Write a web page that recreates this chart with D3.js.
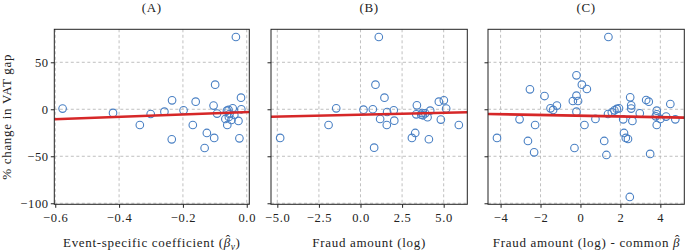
<!DOCTYPE html>
<html>
<head>
<meta charset="utf-8">
<script src="https://cdn.jsdelivr.net/npm/d3@7"></script>
<style>
  body { margin: 0; background: #fff; }
  text { font-family: "Liberation Serif", serif; fill: #222; letter-spacing: 0.7px; }
</style>
</head>
<body>
<div id="chart-area"></div>
<script>

var width = 685,
    height = 252;

// Panel A: event-specific coefficient vs % change in VAT gap
var coefA = [-0.577, -0.419, -0.335, -0.301, -0.258, -0.234, -0.235, -0.198, -0.160, -0.169,
             -0.125, -0.132, -0.099, -0.104, -0.093, -0.102, -0.034, -0.018, -0.017, -0.023,
             -0.026, -0.044, -0.062, -0.057, -0.067, -0.061, -0.056, -0.048, -0.039, -0.054];
var gapA  = [0.7, -3.9, -16.7, -5.0, -2.5, 9.5, -32.0, -1.1, 8.1, -16.7,
             -25.2, -41.2, 26.2, 3.9, -4.6, -30.5, 76.9, 12.4, 0.0, -30.9,
             -12.4, 1.0, -1.5, -0.7, -10.3, -16.7, -8.2, -11.4, -6.1, -5.0];

// Panel B: fraud amount (log)
var fraudB = [-4.83, -1.92, -1.46, 0.18, 0.74, 0.90, 1.10, 0.82, 1.18, 1.44,
              1.60, 1.58, 2.00, 2.03, 3.09, 3.29, 3.39, 3.35, 3.65, 3.75,
              3.89, 4.03, 4.11, 4.19, 4.71, 5.01, 5.15, 4.83, 5.91, 3.70];
var gapB   = [-30.5, -16.7, 1.0, -0.4, 0.0, 26.2, 76.9, -40.8, -10.3, 12.4,
              -2.9, -16.7, -1.1, -12.1, -30.5, -25.2, 4.2, -5.4, -5.7, -6.4,
              -4.3, -8.5, -31.9, -1.5, 8.1, 9.5, 0.7, -11.0, -16.7, -4.0];

// Panel C: fraud amount (log) - common beta
var fraudC = [-4.18, -3.05, -2.53, -2.63, -2.27, -2.32, -1.80, -1.50, -1.37, -1.18,
              -0.38, -0.20, -0.12, -0.20, -0.20, -0.30, 0.07, 0.32, 0.20, 0.75,
              1.19, 1.30, 1.40, 1.38, 1.57, 1.70, 1.82, 1.93, 2.14, 2.18,
              2.27, 2.38, 2.49, 2.54, 2.54, 2.60, 2.47, 2.97, 3.29, 3.42,
              3.49, 3.82, 3.77, 3.82, 3.82, 4.00, 4.29, 4.50, 4.75];
var gapC   = [-30.5, -10.7, 21.2, -33.7, -16.7, -45.8, 14.1, 1.0, -0.7, 3.9,
              8.8, 14.5, 8.8, 36.1, -2.5, -41.2, 26.2, 21.6, -16.7, -10.3,
              -33.7, -48.6, 76.9, -5.0, -3.2, -1.1, 0.4, 1.0, -10.7, -25.2,
              -30.5, -31.6, 12.7, 4.2, 0.7, -12.4, -93.3, -4.3, 9.9, 8.1,
              -47.5, -1.5, -7.5, -5.3, -16.7, -10.3, -7.8, 5.6, -10.7];

// fitted regression lines [intercept, slope]
var fitA = [-3.0, 12.6],
    fitB = [-5.76, 0.398],
    fitC = [-6.84, -0.397];

var titles = ["(A)", "(B)", "(C)"];
var yTicks = [-100, -50, 0, 50];

var svg = d3.select("#chart-area").append("svg")
    .attr("width", width)
    .attr("height", height);

var plotTop = 29.3, plotBottom = 204.3;

var y = d3.scaleLinear()
    .domain([-101.1, 85.1])
    .range([plotBottom, plotTop]);

var panels = [
  { x: coefA, y: gapA, fit: fitA, left: 54.3, right: 249.3, domain: [-0.603, 0.008],
    ticks: [-0.6, -0.4, -0.2, 0.0], fmt: d3.format(".1f"), title: titles[0] },
  { x: fraudB, y: gapB, fit: fitB, left: 271, right: 467.3, domain: [-5.38, 6.42],
    ticks: [-5, -2.5, 0, 2.5, 5], fmt: d3.format(".1f"), title: titles[1] },
  { x: fraudC, y: gapC, fit: fitC, left: 488, right: 684.3, domain: [-4.63, 5.2],
    ticks: [-4, -2, 0, 2, 4], fmt: d3.format("d"), title: titles[2] }
];

panels.forEach(function(p, i) {
  var x = d3.scaleLinear().domain(p.domain).range([p.left, p.right]);
  var g = svg.append("g");

  // grid
  g.selectAll(".vgrid").data(p.ticks).enter().append("line")
    .attr("x1", d => x(d)).attr("x2", d => x(d))
    .attr("y1", plotTop).attr("y2", plotBottom)
    .style("stroke", "#b0b0b0").style("stroke-width", 0.8)
    .style("stroke-dasharray", "3,2.5");
  g.selectAll(".hgrid").data(yTicks).enter().append("line")
    .attr("x1", p.left).attr("x2", p.right)
    .attr("y1", d => y(d)).attr("y2", d => y(d))
    .style("stroke", "#b0b0b0").style("stroke-width", 0.8)
    .style("stroke-dasharray", "3,2.5");

  // points
  var pts = p.x.map(function(v, j) { return { x: v, y: p.y[j] }; });
  g.selectAll("circle").data(pts).enter().append("circle")
    .attr("cx", d => x(d.x))
    .attr("cy", d => y(d.y))
    .attr("r", 3.8)
    .style("fill", "none")
    .style("stroke", "#4a80c4")
    .style("stroke-width", 1.1);

  // regression line across the whole axis
  g.append("line")
    .attr("x1", x(p.domain[0])).attr("y1", y(p.fit[0] + p.fit[1] * p.domain[0]))
    .attr("x2", x(p.domain[1])).attr("y2", y(p.fit[0] + p.fit[1] * p.domain[1]))
    .style("stroke", "#d62728")
    .style("stroke-width", 2.6);

  // axes
  var xAxis = d3.axisBottom(x).tickValues(p.ticks).tickFormat(p.fmt).tickSize(3.5);
  var yAxis = d3.axisLeft(y).tickValues(yTicks).tickSize(3.5);
  if (i > 0) yAxis.tickFormat("");

  var xa = g.append("g").attr("transform", "translate(0," + plotBottom + ")").call(xAxis);
  var ya = g.append("g").attr("transform", "translate(" + p.left + ",0)").call(yAxis);
  [xa, ya].forEach(function(a) {
    a.attr("font-family", null).attr("font-size", null);
    a.select(".domain").remove();
    a.selectAll("line").style("stroke", "#222");
    a.selectAll("text").style("font-size", "12.5px").style("fill", "#222");
  });
  xa.selectAll("text").attr("y", 17.5).attr("dy", null);
  ya.selectAll("text").attr("x", -5.5).attr("dy", "0.34em");

  // frame
  g.append("rect")
    .attr("x", p.left).attr("y", plotTop)
    .attr("width", p.right - p.left).attr("height", plotBottom - plotTop)
    .style("fill", "none").style("stroke", "#222").style("stroke-width", 1);

  // title
  g.append("text")
    .attr("x", (p.left + p.right) / 2).attr("y", 11.5)
    .attr("text-anchor", "middle")
    .style("font-size", "13px")
    .text(p.title);
});

// beta with a hat drawn as a separate glyph
function betaHat(t) {
  t.append("tspan").style("font-style", "italic").style("letter-spacing", "0px").text("\u03B2");
  t.append("tspan").style("letter-spacing", "0px").attr("dx", -4.6).attr("dy", -3.2).text("\u02C6");
}

// x labels
var xl = svg.append("text")
  .attr("x", (54.3 + 249.3) / 2).attr("y", 247)
  .attr("text-anchor", "middle")
  .style("font-size", "13px");
xl.append("tspan").text("Event-specific coefficient (");
betaHat(xl);
xl.append("tspan").style("font-style", "italic").style("font-size", "9.5px")
  .attr("dx", 0.6).attr("dy", 5.7).text("v");
xl.append("tspan").attr("dy", -2.5).text(")");

svg.append("text")
  .attr("x", (271 + 467.3) / 2).attr("y", 247)
  .attr("text-anchor", "middle")
  .style("font-size", "13px")
  .text("Fraud amount (log)");

var xc = svg.append("text")
  .attr("x", (488 + 684.3) / 2).attr("y", 247)
  .attr("text-anchor", "middle")
  .style("font-size", "13px");
xc.append("tspan").text("Fraud amount (log) - common ");
betaHat(xc);

// y label
svg.append("text")
  .attr("transform", "translate(11," + (plotTop + plotBottom) / 2 + ") rotate(-90)")
  .attr("text-anchor", "middle")
  .style("font-size", "13px")
  .text("% change in VAT gap");

</script>
</body>
</html>
